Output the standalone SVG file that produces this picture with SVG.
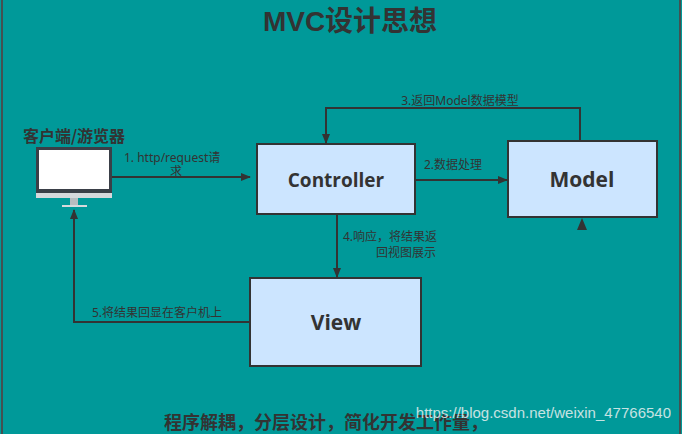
<svg xmlns="http://www.w3.org/2000/svg" width="682" height="434" viewBox="0 0 682 434">
<defs>
<marker id="ah" markerWidth="10" markerHeight="8" refX="9" refY="4" orient="auto" markerUnits="userSpaceOnUse"><path d="M0,0 L10,4 L0,8 z" fill="#333"/></marker>
<style>
.box{fill:#cce5ff;stroke:#333;stroke-width:2}
.lbl{font-family:"Open Sans","Noto Sans CJK SC",sans-serif;font-weight:bold;fill:#333;text-anchor:middle}
.t{font-family:"Noto Sans","Noto Sans CJK SC",sans-serif;font-size:12px;fill:#333}
.c{fill:none;stroke:#333;stroke-width:2}
</style>
</defs>
<rect width="682" height="434" fill="#009999"/>
<line x1="2" y1="0" x2="2" y2="434" stroke="#5a3a3a" stroke-width="1.5"/>
<line x1="680" y1="0" x2="680" y2="434" stroke="#5a3a3a" stroke-width="1.5"/>
<text class="lbl" x="350" y="31" font-size="28" style="font-family:'Liberation Sans','Noto Sans CJK SC',sans-serif">MVC设计思想</text>
<g id="client">
<text class="lbl" x="74" y="142" font-size="16" style="font-family:'Noto Sans CJK SC',sans-serif">客户端/游览器</text>
<rect x="36" y="147" width="76" height="46" fill="#3a3f47"/>
<rect x="39" y="150" width="70" height="39" fill="#fff"/>
<rect x="36" y="193" width="76" height="5" fill="#d6d9dc"/>
<rect x="70" y="198" width="8" height="7" fill="#b8bcc0"/>
<rect x="62" y="205" width="25" height="2" fill="#d6d9dc"/>
</g>
<g id="controller"><rect class="box" x="257" y="144" width="158" height="70"/><text class="lbl" x="336" y="187" font-size="19">Controller</text></g>
<g id="model"><rect class="box" x="508" y="141" width="149" height="76"/><text class="lbl" x="582" y="187" font-size="21">Model</text></g>
<g id="view"><rect class="box" x="250" y="278" width="171" height="88"/><text class="lbl" x="336" y="330" font-size="21">View</text></g>
<g id="connectors">
<path class="c" d="M112,177 H250" marker-end="url(#ah)"/>
<path class="c" d="M415,180 H507" marker-end="url(#ah)"/>
<path class="c" d="M580,141 V108 H326 V143" marker-end="url(#ah)"/>
<path d="M577,230 L582,218 L587,230 z" fill="#333"/>
<path class="c" d="M337,214 V277" marker-end="url(#ah)"/>
<path class="c" d="M250,322 H74 V210" marker-end="url(#ah)"/>
</g>
<text class="t" x="124" y="162">1. http/request请</text>
<text class="t" x="176" y="176" text-anchor="middle">求</text>
<text class="t" x="424" y="169">2.数据处理</text>
<text class="t" x="460" y="105" text-anchor="middle">3.返回Model数据模型</text>
<text class="t" x="343" y="241">4.响应，将结果返</text>
<text class="t" x="406" y="257" text-anchor="middle">回视图展示</text>
<text class="t" x="92" y="317">5.将结果回显在客户机上</text>
<text class="lbl" x="326" y="429" font-size="18" style="font-family:'Noto Sans CJK SC',sans-serif">程序解耦，分层设计，简化开发工作量，</text>
<text x="671" y="418" text-anchor="end" font-family="Liberation Sans,sans-serif" font-size="15" fill="#e8f0f0" opacity="0.85">https://blog.csdn.net/weixin_47766540</text>
</svg>
